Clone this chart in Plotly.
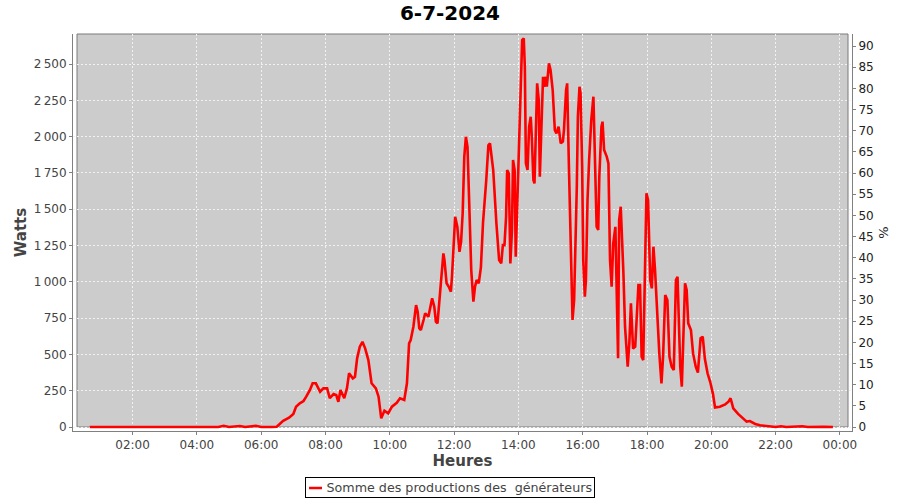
import plotly.graph_objects as go

DAY = "2024-07-06"

times = [
    "00:40", "01:30", "02:20", "03:00", "03:20", "04:00", "04:40", "04:50", "05:00",
    "05:20", "05:30", "05:50", "06:00", "06:20", "06:29",
    "06:41", "06:52", "07:00", "07:05", "07:12", "07:19", "07:24", "07:31", "07:36",
    "07:42", "07:50", "07:56", "08:03", "08:08", "08:15", "08:20", "08:24", "08:28",
    "08:35", "08:40", "08:44", "08:51", "08:55", "08:59", "09:04", "09:09", "09:14",
    "09:20", "09:26", "09:34", "09:39", "09:44", "09:50", "09:57", "10:04", "10:13",
    "10:19", "10:27", "10:32", "10:36", "10:39", "10:44", "10:49", "10:52", "10:55",
    "10:58", "11:03", "11:06", "11:12", "11:15", "11:19", "11:23", "11:26", "11:29",
    "11:32", "11:36", "11:40", "11:42", "11:46", "11:50", "11:54", "11:56", "12:00",
    "12:02", "12:06", "12:10", "12:13", "12:16", "12:19", "12:22", "12:25", "12:28",
    "12:32", "12:36", "12:39", "12:42", "12:46", "12:50", "12:54", "13:00", "13:04",
    "13:07", "13:13", "13:19", "13:24", "13:28", "13:31", "13:34", "13:37", "13:39",
    "13:42", "13:45", "13:48", "13:50", "13:53", "13:55", "13:59", "14:02", "14:05",
    "14:07", "14:10", "14:12", "14:14", "14:17", "14:20", "14:23", "14:25", "14:28",
    "14:30", "14:33", "14:35", "14:38", "14:40", "14:43", "14:46", "14:48", "14:51",
    "14:53", "14:57", "15:00", "15:04", "15:08", "15:11", "15:15", "15:19", "15:23",
    "15:25", "15:29", "15:31", "15:34", "15:38", "15:41", "15:44", "15:46", "15:49",
    "15:51", "15:54", "15:56", "15:59", "16:01", "16:04", "16:06", "16:09", "16:12",
    "16:16", "16:20", "16:23", "16:26", "16:29", "16:31", "16:35", "16:37", "16:40",
    "16:45", "16:48", "16:51", "16:54", "16:57", "17:01", "17:03", "17:06", "17:08",
    "17:11", "17:16", "17:19", "17:24", "17:27", "17:30", "17:34", "17:38", "17:41",
    "17:44", "17:47", "17:50", "17:53", "17:56", "17:59", "18:02", "18:06", "18:09",
    "18:12", "18:15", "18:18", "18:23", "18:27", "18:30", "18:34", "18:38", "18:42",
    "18:46", "18:50", "18:54", "18:57", "19:02", "19:05", "19:08", "19:11", "19:14",
    "19:17", "19:22", "19:26", "19:31", "19:35", "19:40", "19:44", "19:48", "19:53",
    "19:58", "20:03", "20:07", "20:16", "20:26", "20:32", "20:36", "20:41", "20:50",
    "21:00", "21:06", "21:12", "21:22", "21:31", "21:40", "21:50", "22:00", "22:10",
    "22:20", "22:50", "23:00", "23:30", "23:47",
]

watts = [
    0, 0, 2, 0, 3, 0, 0, 8, 0,
    7, 0, 8, 0, 0, 2,
    43, 64, 90, 140, 163, 179, 209, 255, 301,
    301, 243, 266, 266, 198, 227, 220, 174, 255,
    198, 266, 370, 335, 346, 473, 553, 587, 542,
    461, 301, 266, 209, 60, 112, 94, 140, 167,
    198, 186, 301, 576, 599, 691, 840, 794, 680,
    668, 737, 783, 760, 817, 886, 829, 725, 714,
    840, 1035, 1196, 1150, 990, 966, 932, 1035, 1357,
    1448, 1379, 1207, 1276, 1472, 1861, 1999, 1930, 1541,
    1081, 863, 966, 1012, 990, 1100, 1410, 1701, 1940,
    1954, 1770, 1400, 1150, 1127, 1253, 1253, 1448, 1770,
    1747, 1127, 1357, 1839, 1770, 1173, 1724, 2160, 2505,
    2665, 2677, 2481, 1816, 1770, 2068, 2137, 1999, 1701,
    1678, 2045, 2367, 2252, 1724, 2068, 2412, 2344, 2412,
    2344, 2505, 2459, 2321, 2045, 2022, 2068, 1954, 1966,
    2045, 2321, 2367, 1839, 1242, 737, 875, 1150, 1655,
    2137, 2344, 2298, 1793, 1150, 897, 1012, 1563, 1839,
    2114, 2275, 1885, 1379, 1357, 1724, 2068, 2103, 1908,
    1861, 1816, 1150, 966, 1265, 1379, 1035, 473, 1426,
    1517, 1058, 691, 415, 576, 852, 540, 553, 737,
    978, 978, 484, 461, 1035, 1610, 1563, 1012, 955,
    1242, 1081, 829, 507, 301, 484, 909, 875, 484,
    415, 393, 1012, 1035, 415, 278, 668, 990, 944,
    714, 668, 507, 415, 375, 611, 622, 470, 370,
    310, 230, 135, 140, 156, 174, 198, 129, 90,
    53, 37, 41, 21, 12, 7, 4, 0, 5,
    0, 5, 0, 2, 0,
]

w_ticks = [0, 250, 500, 750, 1000, 1250, 1500, 1750, 2000, 2250, 2500]
w_labels = ["0", "250", "500", "750", "1\u202f000", "1\u202f250", "1\u202f500",
            "1\u202f750", "2\u202f000", "2\u202f250", "2\u202f500"]
pct_ticks = list(range(0, 95, 5))
x_ticks = ["2024-07-06 02:00", "2024-07-06 04:00", "2024-07-06 06:00",
           "2024-07-06 08:00", "2024-07-06 10:00", "2024-07-06 12:00",
           "2024-07-06 14:00", "2024-07-06 16:00", "2024-07-06 18:00",
           "2024-07-06 20:00", "2024-07-06 22:00", "2024-07-07 00:00"]
x_labels = ["02:00", "04:00", "06:00", "08:00", "10:00", "12:00", "14:00",
            "16:00", "18:00", "20:00", "22:00", "00:00"]

series_name = "Somme des productions des \u00a0générateurs"

FONT = "DejaVu Sans"
AXC = "#808080"
RED = "#FF0000"

# plot area in pixels: x 73..852, y 34..431
PW, PH = 779, 397


def px_x(p):
    return (p - 73) / PW


def px_y(p):
    return (431 - p) / PH


fig = go.Figure()
fig.add_trace(go.Scatter(
    x=[f"{DAY} {t}" for t in times], y=watts, mode="lines",
    name=series_name, line=dict(color=RED, width=2.6), showlegend=False,
))
fig.add_trace(go.Scatter(x=[], y=[], yaxis="y2", showlegend=False, hoverinfo="skip"))

# gray plot background (inset 4px from the axes, as in JFreeChart)
fig.add_shape(type="rect", xref="paper", yref="paper",
              x0=4 / PW, x1=775 / PW, y0=4 / PH, y1=1,
              fillcolor="#CCCCCC", line=dict(color="#7a7a7a", width=1), layer="below")

# legend box (bottom centre)
fig.add_annotation(
    xref="paper", yref="paper", x=px_x(450), y=px_y(487.5),
    xanchor="center", yanchor="middle", showarrow=False,
    text=series_name, align="right", width=284, height=15,
    font=dict(family=FONT, size=12.7, color="#444444"),
    bordercolor="#000000", borderwidth=1, borderpad=2, bgcolor="rgba(0,0,0,0)",
)
fig.add_shape(type="line", xref="paper", yref="paper",
              x0=px_x(309), x1=px_x(322), y0=px_y(488), y1=px_y(488),
              line=dict(color=RED, width=2.5), layer="above")

fig.update_layout(
    width=900, height=500,
    margin=dict(l=73, r=48, t=34, b=69, autoexpand=False),
    paper_bgcolor="white", plot_bgcolor="white",
    font=dict(family=FONT, size=12, color="#444444"),
    title=dict(text="6-7-2024", x=0.5, xref="container", xanchor="center",
               y=1 - 13 / 500, yref="container", yanchor="middle",
               font=dict(family=FONT, size=20, color="#000000", weight="bold")),
    xaxis=dict(
        type="date", automargin=False,
        range=["2024-07-06 00:08:46", "2024-07-07 00:22:35"],
        tickvals=x_ticks, ticktext=x_labels,
        showgrid=True, gridcolor="#F2F2F2", griddash="2px,2px", gridwidth=1,
        showline=True, linecolor=AXC, linewidth=1,
        ticks="outside", ticklen=3, tickcolor=AXC,
        tickfont=dict(family=FONT, size=12, color="#444444"),
        title=dict(text="Heures", standoff=4,
                   font=dict(family=FONT, size=15, color="#444444", weight="bold")),
        zeroline=False,
    ),
    yaxis=dict(
        automargin=False,
        range=[-27.5, 2707],
        tickvals=w_ticks, ticktext=w_labels,
        showgrid=True, gridcolor="#F2F2F2", griddash="2px,2px", gridwidth=1,
        showline=True, linecolor=AXC, linewidth=1,
        ticks="outside", ticklen=3, tickcolor=AXC,
        tickfont=dict(family=FONT, size=12, color="#444444"),
        title=dict(text="Watts", standoff=3,
                   font=dict(family=FONT, size=15, color="#444444", weight="bold")),
        zeroline=False,
    ),
    yaxis2=dict(
        automargin=False,
        overlaying="y", side="right",
        range=[-0.945, 92.84],
        tickvals=pct_ticks,
        showgrid=False, zeroline=False,
        showline=True, linecolor=AXC, linewidth=1,
        ticks="outside", ticklen=3, tickcolor=AXC,
        tickfont=dict(family=FONT, size=12, color="#222222"),
        title=dict(text="%", standoff=6,
                   font=dict(family=FONT, size=13, color="#222222")),
    ),
    showlegend=False,
)

fig.write_html("out.html", config={"displayModeBar": False},
               post_script="document.body.style.margin='0';document.body.style.overflow='hidden';")
